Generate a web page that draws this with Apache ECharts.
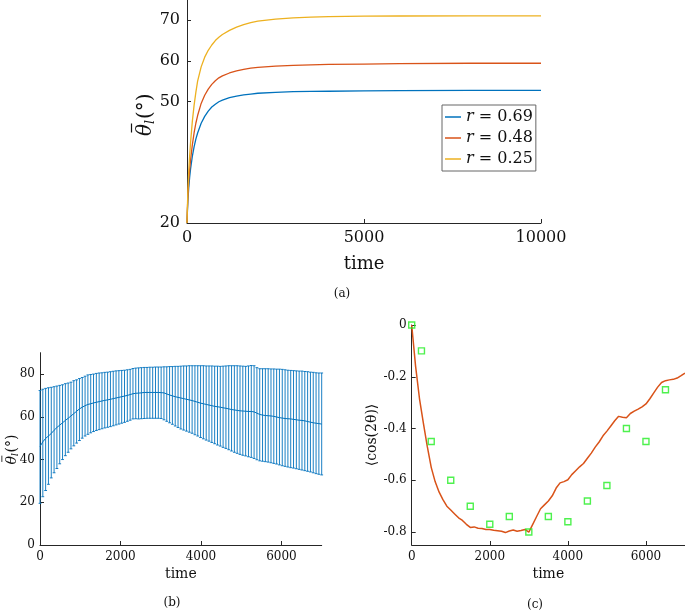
<!DOCTYPE html>
<html>
<head>
<meta charset="utf-8">
<script src="https://cdn.jsdelivr.net/npm/echarts@6/dist/echarts.min.js"></script>
<style>
html,body{margin:0;padding:0;background:#fff;}
#chart{width:685px;height:613px;}
</style>
</head>
<body>
<div id="chart"></div>
<script>
// ---------- Panel (a) ----------
const timesA = [0,10,25,50,75,100,150,200,250,300,400,500,600,700,800,900,1000,1200,1400,1600,1800,2000,2500,3000,3500,4000,5000,6000,8000,10000];
const thetaR069 = [20,22.5,25.5,28.8,31.3,33.3,36.4,38.8,40.7,42.2,44.6,46.3,47.6,48.6,49.3,49.9,50.3,50.9,51.3,51.6,51.8,52.0,52.2,52.4,52.45,52.5,52.6,52.65,52.7,52.7];
const thetaR048 = [20,23,26.5,30.5,33.2,35.5,39.2,42.2,44.6,46.5,49.5,51.5,53.0,54.2,55.1,55.8,56.3,57.0,57.5,57.9,58.2,58.4,58.7,58.9,59.0,59.1,59.2,59.3,59.4,59.4];
const thetaR025 = [20,23.5,28,33,36.5,39.8,45,49,52.2,55,58.5,60.9,62.6,63.9,65.0,65.8,66.5,67.5,68.3,68.9,69.4,69.8,70.3,70.6,70.8,70.9,71.0,71.05,71.1,71.1];
const seriesNamesA = ['r = 0.69','r = 0.48','r = 0.25'];
const yTicksA = [20,50,60,70];
const xTicksA = [0,5000,10000];

// ---------- Panel (b) ----------
const timesB = [0,70,140,210,280,350,420,490,560,630,700,770,840,910,980,1050,1120,1190,1260,1330,1400,1470,1540,1610,1680,1750,1820,1890,1960,2030,2100,2170,2240,2310,2380,2450,2520,2590,2660,2730,2800,2870,2940,3010,3080,3150,3220,3290,3360,3430,3500,3570,3640,3710,3780,3850,3920,3990,4060,4130,4200,4270,4340,4410,4480,4550,4620,4690,4760,4830,4900,4970,5040,5110,5180,5250,5320,5390,5460,5530,5600,5670,5740,5810,5880,5950,6020,6090,6160,6230,6300,6370,6440,6510,6580,6650,6720,6790,6860,6930,7000];
const meanB = [46.1,48.3,49.9,51.0,52.2,53.7,55.0,56.1,57.2,58.3,59.3,60.4,61.5,62.6,63.7,64.5,65.2,65.8,66.1,66.5,66.8,67.1,67.4,67.7,67.9,68.2,68.5,68.8,69.1,69.4,69.7,70.0,70.4,70.8,71.0,71.1,71.2,71.4,71.4,71.4,71.4,71.4,71.4,71.3,71.2,70.7,70.2,69.8,69.4,69.1,68.8,68.5,68.2,67.9,67.6,67.2,66.8,66.4,66.1,65.8,65.5,65.2,64.9,64.7,64.5,64.2,64.0,63.7,63.4,63.2,63.0,62.8,62.7,62.6,62.5,62.5,62.3,61.7,61.1,60.8,60.6,60.5,60.4,60.2,59.9,59.6,59.4,59.2,59.1,59.0,58.8,58.6,58.4,58.3,58.1,57.8,57.5,57.2,57.0,56.8,56.6];
const upperB = [72.3,72.9,73.3,73.6,73.8,74.1,74.4,74.7,75.0,75.5,75.8,76.2,76.9,77.3,77.9,78.4,79.0,79.6,79.8,80.0,80.3,80.5,80.6,80.8,80.9,81.1,81.3,81.5,81.6,81.7,81.8,82.0,82.2,82.6,82.8,82.9,83.0,83.1,83.1,83.2,83.2,83.3,83.3,83.3,83.4,83.4,83.5,83.5,83.6,83.6,83.7,83.8,83.8,83.9,83.9,83.9,83.9,83.9,83.9,83.8,83.8,83.8,83.7,83.7,83.6,83.7,83.8,83.9,83.9,83.9,83.9,83.8,83.7,83.6,83.8,84.0,83.9,83.0,82.5,82.5,82.5,82.5,82.4,82.4,82.3,82.3,82.2,82.0,81.8,81.7,81.6,81.5,81.4,81.4,81.2,81.1,80.9,80.8,80.6,80.5,80.5];
const lowerB = [19.5,22.6,25.5,28.4,31.4,33.8,35.8,38.0,40.0,41.8,43.4,45.0,46.4,47.7,48.9,50.0,51.0,51.8,52.5,53.1,53.6,54.0,54.4,54.8,55.1,55.4,55.8,56.2,56.6,57.0,57.4,57.9,58.4,59.0,59.1,59.0,59.1,59.2,59.3,59.3,59.3,59.3,59.3,59.2,58.6,57.9,57.2,56.5,55.7,55.0,54.3,53.8,53.3,52.8,52.3,51.6,51.0,50.3,49.7,49.1,48.6,48.0,47.4,46.8,46.3,45.7,45.2,44.6,44.0,43.4,42.9,42.4,42.0,41.7,41.3,41.0,40.5,39.9,39.4,39.2,39.0,38.8,38.5,38.2,37.9,37.5,37.1,36.8,36.5,36.2,36.0,35.7,35.4,35.1,34.8,34.5,34.2,33.8,33.4,33.1,32.8];
const yTicksB = [0,20,40,60,80];
const xTicksB = [0,2000,4000,6000];

// ---------- Panel (c) ----------
const timesC = [0,100,200,300,400,500,600,700,800,900,1000,1100,1200,1300,1400,1500,1600,1700,1800,1900,2000,2100,2200,2300,2400,2500,2600,2700,2800,2900,3000,3100,3200,3300,3400,3500,3600,3700,3800,3900,4000,4100,4200,4300,4400,4500,4600,4700,4800,4900,5000,5100,5200,5300,5400,5500,5600,5700,5800,5900,6000,6100,6200,6300,6400,6500,6600,6700,6800,6900,7000];
const cosSim = [0,-0.16,-0.285,-0.38,-0.47,-0.55,-0.605,-0.645,-0.675,-0.70,-0.715,-0.73,-0.745,-0.755,-0.77,-0.782,-0.78,-0.785,-0.786,-0.79,-0.79,-0.793,-0.795,-0.797,-0.802,-0.796,-0.792,-0.797,-0.794,-0.79,-0.80,-0.77,-0.74,-0.71,-0.695,-0.68,-0.66,-0.63,-0.61,-0.605,-0.598,-0.578,-0.563,-0.548,-0.535,-0.515,-0.495,-0.472,-0.452,-0.428,-0.41,-0.39,-0.37,-0.353,-0.356,-0.358,-0.342,-0.333,-0.325,-0.316,-0.305,-0.285,-0.262,-0.24,-0.222,-0.215,-0.212,-0.21,-0.205,-0.196,-0.186];
const timesExp = [0,250,500,1000,1500,2000,2500,3000,3500,4000,4500,5000,5500,6000,6500];
const cosExp = [0,-0.1,-0.45,-0.6,-0.7,-0.77,-0.74,-0.8,-0.74,-0.76,-0.68,-0.62,-0.4,-0.45,-0.25];
const yTicksC = [0,-0.2,-0.4,-0.6,-0.8];
const xTicksC = [0,2000,4000,6000];

const FONT = "'DejaVu Serif','Liberation Serif',serif";
const AX = '#262626';
const colorsA = ['#0072BD','#D95319','#EDB120'];

function zip(xs, ys){ return xs.map((x,i)=>[x, ys[i]]); }

function xAxisCfg(grid, max, ticks, fs, nameFs, nameGap, margin){
  return {
    type:'value', gridIndex:grid, min:0, max:max,
    name:'time', nameLocation:'middle', nameGap:nameGap,
    nameTextStyle:{fontFamily:FONT, fontSize:nameFs, color:'#111'},
    axisLine:{show:true, onZero:false, lineStyle:{color:AX, width:1}},
    axisTick:{show:true, inside:true, length:4, customValues:ticks, lineStyle:{color:AX}},
    axisLabel:{show:true, customValues:ticks, margin:margin, fontFamily:FONT, fontSize:fs, color:'#111', formatter:v=>String(v)},
    splitLine:{show:false}
  };
}
function yAxisCfg(grid, min, max, ticks, fs, margin){
  return {
    type:'value', gridIndex:grid, min:min, max:max,
    axisLine:{show:true, onZero:false, lineStyle:{color:AX, width:1}},
    axisTick:{show:true, inside:true, length:4, customValues:ticks, lineStyle:{color:AX}},
    axisLabel:{show:true, customValues:ticks, margin:margin, fontFamily:FONT, fontSize:fs, color:'#111', formatter:v=>String(v)},
    splitLine:{show:false}
  };
}

// Rotated y-axis title "theta-bar subscript l (deg)" built as a small text group
function thetaTitle(cx, cy, s){
  const f = 20*s;
  return {
    type:'group', x:cx, y:cy, rotation:Math.PI/2,
    children:[
      {type:'text', style:{x:-22*s, y:0, text:'θ', font:'italic ' + f + 'px ' + FONT, fill:'#111', textAlign:'left', textVerticalAlign:'middle'}},
      {type:'line', shape:{x1:-18.5*s, y1:-14.5*s, x2:-9.5*s, y2:-14.5*s}, style:{stroke:'#111', lineWidth:1.2*s}},
      {type:'text', style:{x:-10*s, y:5*s, text:'l', font:'italic ' + (13*s) + 'px ' + FONT, fill:'#111', textAlign:'left', textVerticalAlign:'middle'}},
      {type:'text', style:{x:-5*s, y:0, text:'(°)', font:f + 'px ' + FONT, fill:'#111', textAlign:'left', textVerticalAlign:'middle'}}
    ]
  };
}

const chart = echarts.init(document.getElementById('chart'), null, {renderer:'canvas'});

const yA = yAxisCfg(0, 20, 75, yTicksA, 16, 7);
const yB = yAxisCfg(1, 0, 90, yTicksB, 12, 5);
const yC = yAxisCfg(2, -0.85, 0, yTicksC, 12, 5);
yC.name = '⟨cos(2θ)⟩';
yC.nameLocation = 'middle'; yC.nameGap = 31;
yC.nameTextStyle = {fontFamily:FONT, fontSize:14, color:'#111'};

const option = {
  backgroundColor:'#fff',
  animation:false,
  grid:[
    {left:187, top:0, width:354, height:223},
    {left:40, top:352.7, width:281.7, height:192.3},
    {left:411.7, top:325, width:273.3, height:220}
  ],
  xAxis:[
    xAxisCfg(0, 10000, xTicksA, 16, 18, 32, 7),
    xAxisCfg(1, 7000, xTicksB, 12, 14, 22, 6),
    xAxisCfg(2, 7000, xTicksC, 12, 14, 22, 6)
  ],
  yAxis:[yA, yB, yC],
  legend:{
    show:true, orient:'vertical', left:442, top:105,
    data:seriesNamesA,
    backgroundColor:'#fff', borderColor:'#666', borderWidth:1,
    padding:[4,3,4,3], itemGap:5, itemWidth:16, itemHeight:1.5, icon:'rect',
    formatter:function(name){ return '{i|r}{t|' + name.slice(1) + '}'; },
    textStyle:{fontFamily:FONT, fontSize:16, color:'#111',
      rich:{i:{fontFamily:FONT, fontSize:16, fontStyle:'italic', color:'#111'},
            t:{fontFamily:FONT, fontSize:16, color:'#111'}}}
  },
  graphic:[
    thetaTitle(146, 114, 1),
    thetaTitle(12, 449, 0.7),
    {type:'text', style:{x:342, y:294, text:'(a)', font:'12px ' + FONT, fill:'#111', textAlign:'center', textVerticalAlign:'middle'}},
    {type:'text', style:{x:172, y:603, text:'(b)', font:'12px ' + FONT, fill:'#111', textAlign:'center', textVerticalAlign:'middle'}},
    {type:'text', style:{x:535, y:605, text:'(c)', font:'12px ' + FONT, fill:'#111', textAlign:'center', textVerticalAlign:'middle'}}
  ],
  series:[
    {name:seriesNamesA[0], type:'line', xAxisIndex:0, yAxisIndex:0, data:zip(timesA, thetaR069), showSymbol:false, lineStyle:{color:colorsA[0], width:1.3}, itemStyle:{color:colorsA[0]}},
    {name:seriesNamesA[1], type:'line', xAxisIndex:0, yAxisIndex:0, data:zip(timesA, thetaR048), showSymbol:false, lineStyle:{color:colorsA[1], width:1.3}, itemStyle:{color:colorsA[1]}},
    {name:seriesNamesA[2], type:'line', xAxisIndex:0, yAxisIndex:0, data:zip(timesA, thetaR025), showSymbol:false, lineStyle:{color:colorsA[2], width:1.3}, itemStyle:{color:colorsA[2]}},
    {
      type:'custom', xAxisIndex:1, yAxisIndex:1,
      data: timesB.map((t,i)=>[t, lowerB[i], upperB[i]]),
      renderItem:function(params, api){
        const p1 = api.coord([api.value(0), api.value(2)]);
        const p2 = api.coord([api.value(0), api.value(1)]);
        const cw = 1.4;
        const st = {stroke:'#0072BD', lineWidth:0.9};
        return {type:'group', children:[
          {type:'line', shape:{x1:p1[0], y1:p1[1], x2:p2[0], y2:p2[1]}, style:st},
          {type:'line', shape:{x1:p1[0]-cw, y1:p1[1], x2:p1[0]+cw, y2:p1[1]}, style:st},
          {type:'line', shape:{x1:p2[0]-cw, y1:p2[1], x2:p2[0]+cw, y2:p2[1]}, style:st}
        ]};
      },
      silent:true, z:2
    },
    {type:'line', xAxisIndex:1, yAxisIndex:1, data:zip(timesB, meanB), showSymbol:false, lineStyle:{color:'#0072BD', width:1}, z:3},
    {type:'line', xAxisIndex:2, yAxisIndex:2, data:zip(timesC, cosSim), showSymbol:false, lineStyle:{color:'#D95319', width:1.5}, z:2},
    {type:'scatter', xAxisIndex:2, yAxisIndex:2, data:zip(timesExp, cosExp), symbol:'rect', symbolSize:6,
      itemStyle:{color:'rgba(0,0,0,0)', borderColor:'#22ee22', borderWidth:1.4}, z:3}
  ]
};
chart.setOption(option);
</script>
</body>
</html>
